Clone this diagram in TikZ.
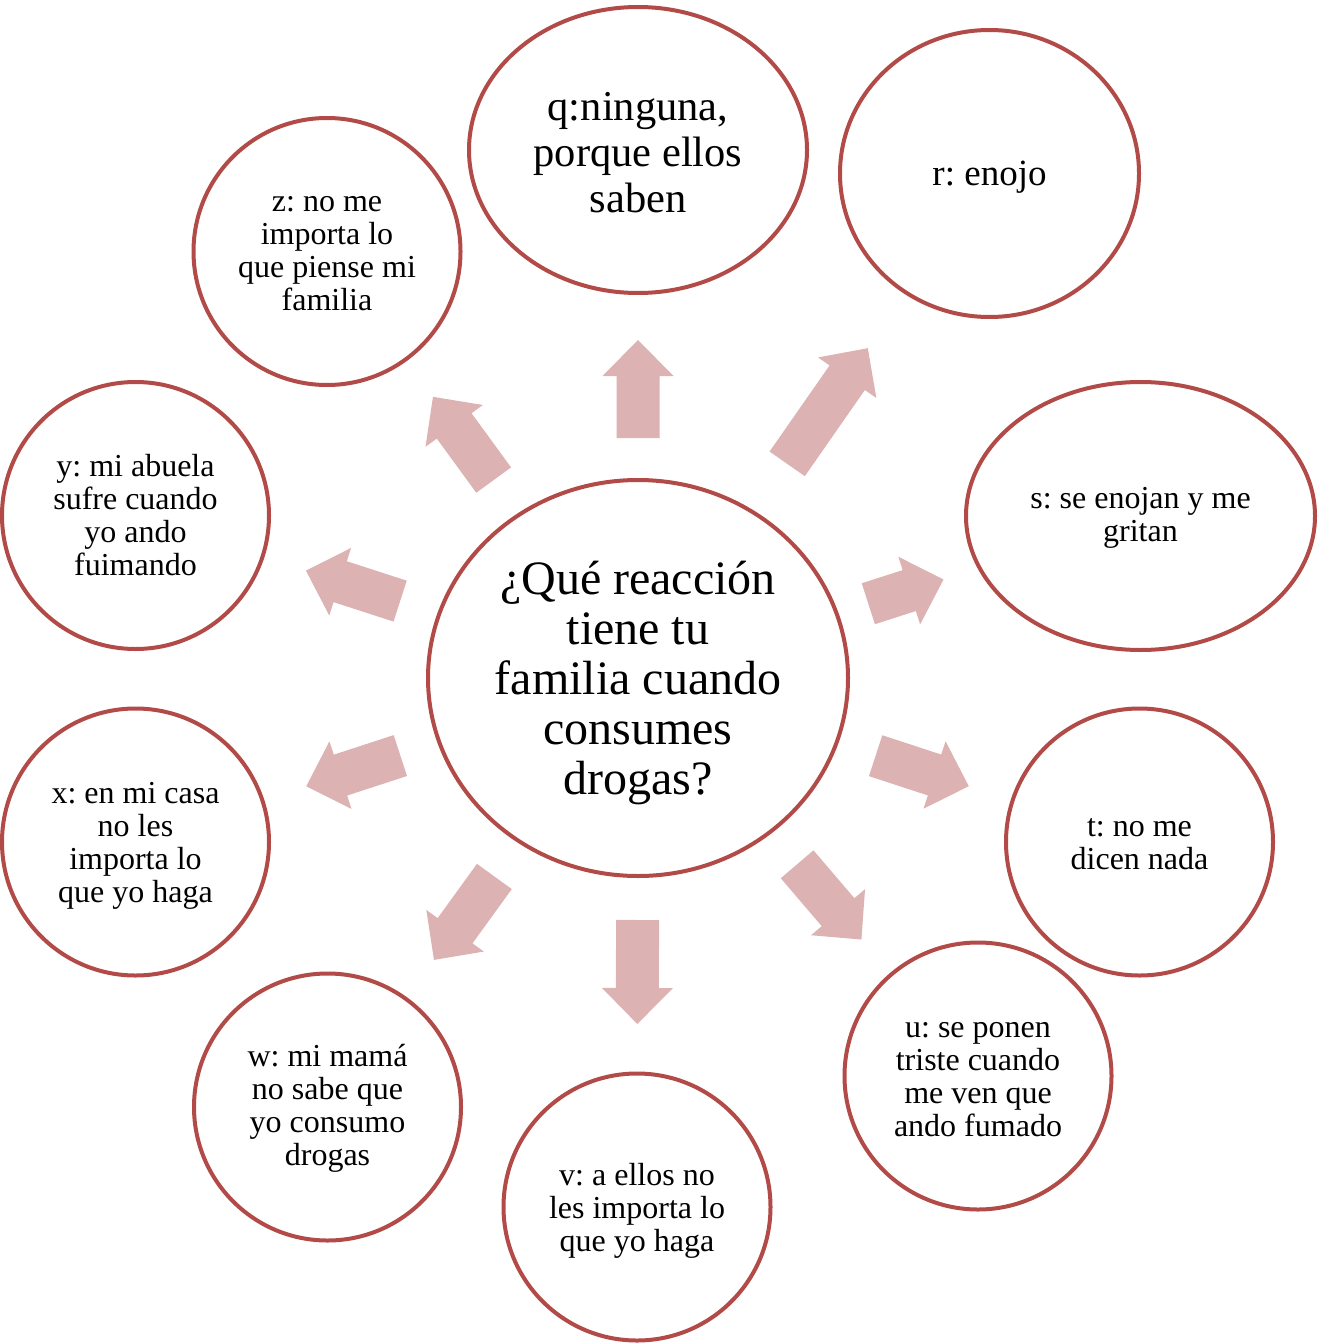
\documentclass[tikz,border=0pt]{standalone}
\usepackage{fontspec}
\setmainfont{Liberation Serif}
\frenchspacing
\usetikzlibrary{shapes.geometric,calc}
\definecolor{ringred}{HTML}{B24A47}
\definecolor{arrowfill}{HTML}{DCB2B2}
\tikzset{
  bub/.style={draw=ringred, line width=4pt, ellipse, inner sep=0pt, fill=white},
  small/.style={bub, minimum width=267pt, minimum height=267pt},
  txt/.style={align=center, inner sep=0pt, font=\fontsize{32}{33}\selectfont},
  pics/barrow/.style={code={
    \fill[arrowfill] (0,-21.5) -- (#1-36,-21.5) -- (#1-36,-35.5) -- (#1,0)
      -- (#1-36,35.5) -- (#1-36,21.5) -- (0,21.5) -- cycle;}}
}
\begin{document}
\begin{tikzpicture}[x=1pt,y=1pt]
\useasboundingbox (0,0) rectangle (1317,-1343);
% bubbles
\node[bub, minimum width=420pt, minimum height=396pt] (c) at (638,-678) {};
\node[bub, minimum width=338pt, minimum height=286pt] (q) at (638,-150) {};
\node[bub, minimum width=299pt, minimum height=287pt] (r) at (989.5,-173.5) {};
\node[bub, minimum width=349pt, minimum height=268pt] (s) at (1140.5,-516) {};
\node[small] (t) at (1139.5,-842) {};
\node[small] (u) at (978,-1076) {};
\node[small] (v) at (637,-1207) {};
\node[small] (w) at (327.5,-1107) {};
\node[small] (x) at (135.5,-842) {};
\node[small] (y) at (135.5,-515.5) {};
\node[small] (z) at (327,-251.5) {};
% texts
\node[txt, font=\fontsize{48}{50}\selectfont] (ct) at ($(c)+(0,-5)$)
  {¿Qué reacción\\tiene tu\\familia cuando\\consumes\\drogas?};
\node[txt, font=\fontsize{42.5}{46}\selectfont] (qt) at ($(q)+(0,-3)$)
  {q:ninguna,\\porque ellos\\saben};
\node[txt, font=\fontsize{37}{40}\selectfont] (rt) at ($(r)+(0,-4)$) {r: enojo};
\node[txt] (st) at ($(s)+(0,-2)$) {s: se enojan y me\\gritan};
\node[txt] (tt) at ($(t)+(0,-2)$) {t: no me\\dicen nada};
\node[txt] (ut) at ($(u)+(0,-4)$) {u: se ponen\\triste cuando\\me ven que\\ando fumado};
\node[txt] (vt) at ($(v)+(0,-4)$) {v: a ellos no\\les importa lo\\que yo haga};
\node[txt] (wt) at ($(w)+(0,-1)$) {w: mi mamá\\no sabe que\\yo consumo\\drogas};
\node[txt] (xt) at ($(x)+(0,-4)$) {x: en mi casa\\no les\\importa lo\\que yo haga};
\node[txt] (yt) at ($(y)+(0,0)$) {y: mi abuela\\sufre cuando\\yo ando\\fuimando};
\node[txt] (zt) at ($(z)+(0,-2)$) {z: no me\\importa lo\\que piense mi\\familia};
% block arrows from the centre towards each bubble
\foreach \tgt/\dd/\ll in {q/240/98, r/261/141, s/242/79, t/250/98, u/245/99, v/242/104, w/245/103, x/250/99, y/250/99, z/245/103}{
  \path let \p1=($(\tgt.center)-(c.center)$), \n1={atan2(\y1,\x1)} in
    pic[rotate=\n1] at ($(c.center)+(\n1:\dd pt)$) {barrow=\ll};
}
\end{tikzpicture}
\end{document}
